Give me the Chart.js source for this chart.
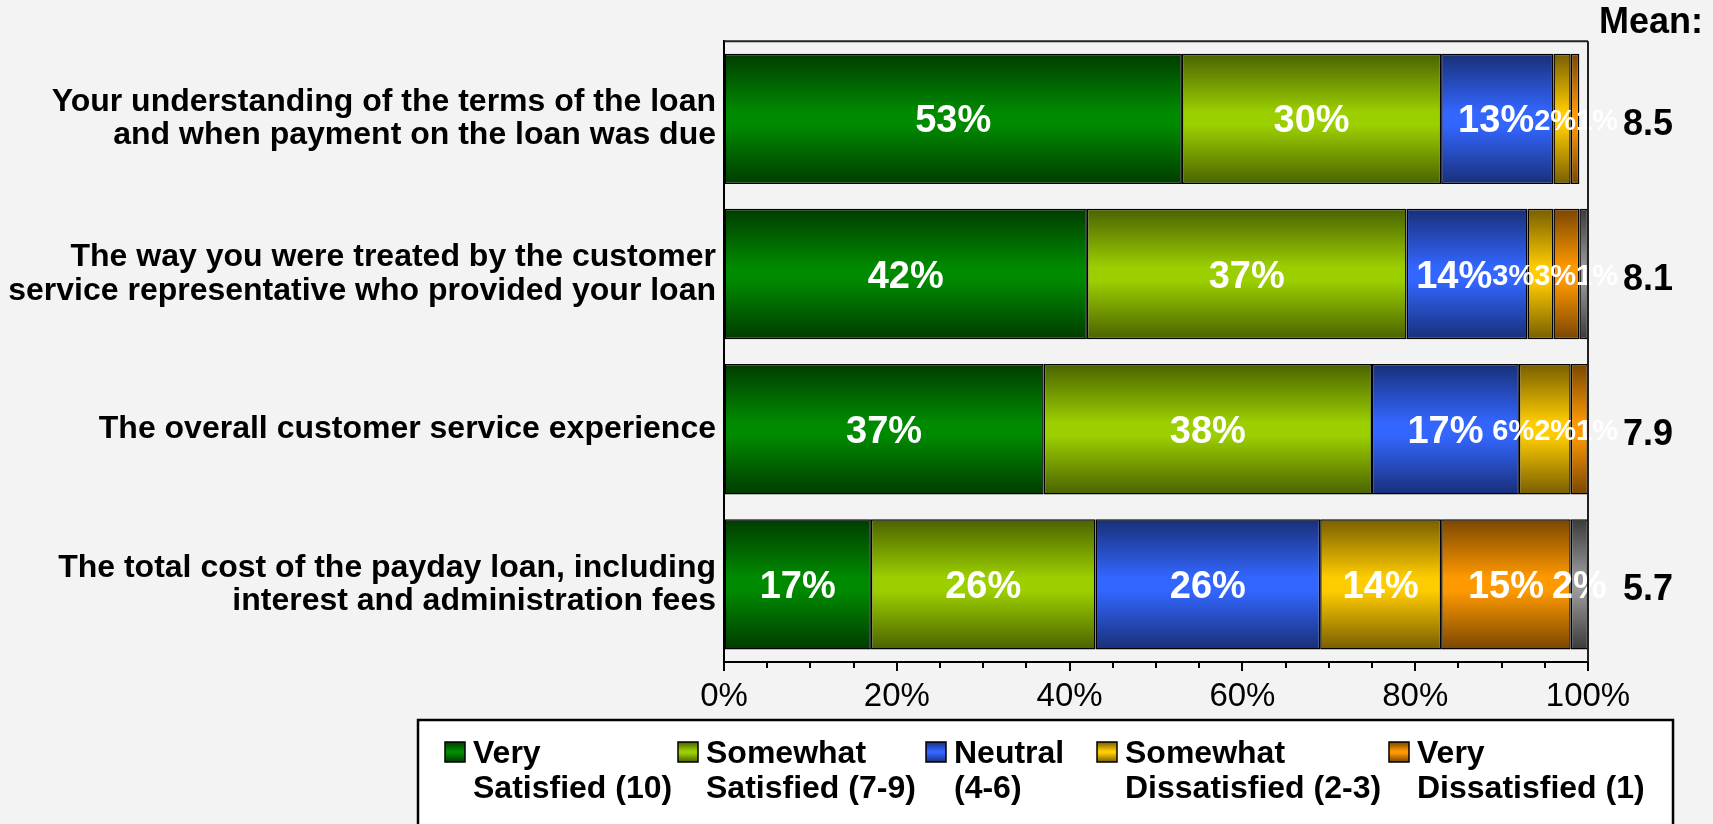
<!DOCTYPE html>
<html>
<head>
<meta charset="utf-8">
<title>Satisfaction with payday loan</title>
<script src="https://cdn.jsdelivr.net/npm/chart.js@4/dist/chart.umd.min.js"></script>
<style>
  html, body { margin: 0; padding: 0; background: #f3f3f3; }
  #wrap { width: 1713px; height: 824px; position: relative; }
  canvas { display: block; }
</style>
</head>
<body>
<div id="wrap"><canvas id="chart" width="1713" height="824"></canvas></div>
<script>
// ---- data ----
const categories = [
  ["Your understanding of the terms of the loan", "and when payment on the loan was due"],
  ["The way you were treated by the customer", "service representative who provided your loan"],
  "The overall customer service experience",
  ["The total cost of the payday loan, including", "interest and administration fees"]
];
const verySatisfied        = [53, 42, 37, 17];
const somewhatSatisfied    = [30, 37, 38, 26];
const neutral              = [13, 14, 17, 26];
const somewhatDissatisfied = [2, 3, 6, 14];
const veryDissatisfied     = [1, 3, 2, 15];
const dontKnow             = [0, 1, 1, 2];
const meanScores           = ["8.5", "8.1", "7.9", "5.7"];
const seriesLabels = [
  ["Very", "Satisfied (10)"],
  ["Somewhat", "Satisfied (7-9)"],
  ["Neutral", "(4-6)"],
  ["Somewhat", "Dissatisfied (2-3)"],
  ["Very", "Dissatisfied (1)"],
  ["Don't know"]
];
const xTickValues = [0, 20, 40, 60, 80, 100];

// ---- styling ----
const FONT = "'Liberation Sans', Arial, Helvetica, sans-serif";
const shades = [
  { dark: '#003c00', light: '#008a00' },
  { dark: '#4a6200', light: '#9ccf00' },
  { dark: '#182f78', light: '#3366ff' },
  { dark: '#785e00', light: '#ffcc00' },
  { dark: '#7a4600', light: '#ff9900' },
  { dark: '#3a3a3a', light: '#9a9a9a' }
];
const BAND_FILL = 0.84;

function fillGradient(ctx2d, top, bottom, shade) {
  const g = ctx2d.createLinearGradient(0, top, 0, bottom);
  g.addColorStop(0, shade.dark);
  g.addColorStop(0.45, shade.light);
  g.addColorStop(0.55, shade.light);
  g.addColorStop(1, shade.dark);
  return g;
}

function barFill(shade) {
  return (context) => {
    const chart = context.chart;
    if (!chart.chartArea || context.type !== 'data') return shade.light;
    const y = chart.scales.y;
    const c = y.getPixelForValue(context.dataIndex);
    const band = Math.abs(y.getPixelForValue(1) - y.getPixelForValue(0));
    const half = band * BAND_FILL / 2;
    return fillGradient(chart.ctx, c - half, c + half, shade);
  };
}

const seriesValues = [verySatisfied, somewhatSatisfied, neutral, somewhatDissatisfied, veryDissatisfied, dontKnow];

// Spread overlapping labels of one row side by side around their mean centre,
// keeping the group left of maxRight.
function spreadRow(items, maxRight) {
  let clusters = items.map(it => ({ members: [it], center: it.c, w: it.w }));
  const place = (cl) => {
    let left = cl.center - cl.w / 2;
    if (left + cl.w > maxRight) left = maxRight - cl.w;
    cl.left = left;
  };
  let changed = true;
  while (changed) {
    changed = false;
    clusters.forEach(place);
    for (let k = 1; k < clusters.length; k++) {
      const a = clusters[k - 1], b = clusters[k];
      if (a.left + a.w > b.left + 0.5) {
        const members = a.members.concat(b.members);
        const merged = {
          members,
          w: a.w + b.w,
          center: members.reduce((s, m) => s + m.c, 0) / members.length
        };
        clusters.splice(k - 1, 2, merged);
        changed = true;
        break;
      }
    }
  }
  clusters.forEach(cl => {
    let x = cl.left;
    cl.members.forEach(m => { m.x = x + m.w / 2; x += m.w; });
  });
}

// percent labels inside each segment; crowded tails get a smaller size
const segmentLabels = {
  id: 'segmentLabels',
  afterDatasetsDraw(chart) {
    const { ctx, chartArea } = chart;
    ctx.save();
    ctx.fillStyle = '#ffffff';
    ctx.textAlign = 'center';
    ctx.textBaseline = 'middle';
    chart.data.labels.forEach((_, i) => {
      const smallOnes = chart.data.datasets.filter(d => d.data[i] > 0 && d.data[i] < 10).length;
      const items = [];
      chart.data.datasets.forEach((ds, di) => {
        const v = ds.data[i];
        if (!v) return;
        const bar = chart.getDatasetMeta(di).data[i];
        const size = (v < 10 && smallOnes > 1) ? 29 : 38;
        const font = `bold ${size}px ${FONT}`;
        ctx.font = font;
        const text = v + '%';
        items.push({ text, font, y: bar.y + 3, c: (bar.x + bar.base) / 2, w: ctx.measureText(text).width });
      });
      spreadRow(items, chartArea.right + 30);
      items.forEach(it => {
        ctx.font = it.font;
        ctx.fillText(it.text, it.x, it.y);
      });
    });
    ctx.restore();
  }
};

// plot frame, axis tick marks, mean column and legend box
const decorations = {
  id: 'decorations',
  afterDraw(chart) {
    const { ctx, chartArea: a, scales } = chart;
    ctx.save();

    // frame top and right
    ctx.strokeStyle = '#222';
    ctx.lineWidth = 2;
    ctx.beginPath();
    ctx.moveTo(a.left, a.top);
    ctx.lineTo(a.right, a.top);
    ctx.moveTo(a.right, a.top);
    ctx.lineTo(a.right, a.bottom);
    ctx.stroke();

    // tick marks every 5%, longer at labelled values
    ctx.strokeStyle = '#000';
    ctx.beginPath();
    for (let v = 0; v <= 100; v += 5) {
      const px = Math.round(scales.x.getPixelForValue(v));
      const len = xTickValues.includes(v) ? 9 : 6;
      ctx.moveTo(px, a.bottom);
      ctx.lineTo(px, a.bottom + len);
    }
    ctx.stroke();

    // mean scores
    ctx.fillStyle = '#000';
    ctx.textAlign = 'center';
    ctx.textBaseline = 'middle';
    ctx.font = `bold 36px ${FONT}`;
    ctx.fillText('Mean:', a.right + 63, 23);
    meanScores.forEach((m, i) => {
      ctx.fillText(m, a.right + 60, scales.y.getPixelForValue(i) + 6);
    });

    // legend
    const box = { left: 418, top: 720, right: 1673, bottom: 840 };
    ctx.fillStyle = '#ffffff';
    ctx.fillRect(box.left, box.top, box.right - box.left, box.bottom - box.top);
    ctx.strokeStyle = '#000';
    ctx.lineWidth = 2.5;
    ctx.strokeRect(box.left, box.top, box.right - box.left, box.bottom - box.top);

    const columns = [445, 678, 926, 1097, 1389];
    ctx.textAlign = 'left';
    ctx.font = `bold 32px ${FONT}`;
    columns.forEach((x, i) => {
      const sq = 20, sqTop = 742;
      ctx.fillStyle = fillGradient(ctx, sqTop, sqTop + sq, shades[i]);
      ctx.fillRect(x, sqTop, sq, sq);
      ctx.lineWidth = 1.5;
      ctx.strokeStyle = '#000';
      ctx.strokeRect(x, sqTop, sq, sq);
      ctx.fillStyle = '#000';
      seriesLabels[i].forEach((line, li) => {
        ctx.fillText(line, x + 28, 754 + li * 35);
      });
    });

    ctx.restore();
  }
};

new Chart(document.getElementById('chart'), {
  type: 'bar',
  data: {
    labels: categories,
    datasets: seriesValues.map((vals, i) => ({
      label: seriesLabels[i].join(' '),
      data: vals,
      backgroundColor: barFill(shades[i]),
      borderColor: '#000',
      borderWidth: 1.5,
      borderSkipped: false,
      categoryPercentage: BAND_FILL,
      barPercentage: 1
    }))
  },
  options: {
    indexAxis: 'y',
    responsive: false,
    animation: false,
    devicePixelRatio: 1,
    layout: { padding: { top: 40, right: 125, left: 0, bottom: 0 } },
    scales: {
      x: {
        stacked: true,
        min: 0,
        max: 100,
        afterFit: (s) => { s.height = 162; },
        afterBuildTicks: (s) => { s.ticks = xTickValues.map(v => ({ value: v })); },
        ticks: {
          autoSkip: false,
          maxRotation: 0,
          padding: 15,
          color: '#000',
          font: { family: FONT, size: 33 },
          callback: (v) => v + '%'
        },
        grid: { drawOnChartArea: false, drawTicks: false },
        border: { color: '#000', width: 2 }
      },
      y: {
        stacked: true,
        afterFit: (s) => { s.width = 724; },
        ticks: {
          color: '#000',
          padding: 8,
          font: { family: FONT, size: 32, weight: 'bold', lineHeight: 1.04 }
        },
        grid: { drawOnChartArea: false, drawTicks: false },
        border: { color: '#000', width: 2 }
      }
    },
    plugins: {
      legend: { display: false },
      tooltip: { enabled: false }
    }
  },
  plugins: [segmentLabels, decorations]
});
</script>
</body>
</html>
